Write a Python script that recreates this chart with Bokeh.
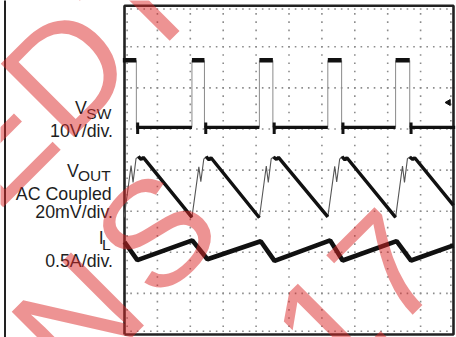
import numpy as np
from bokeh.plotting import figure
from bokeh.models import Range1d
from bokeh.core.properties import value
from bokeh.embed import file_html
from bokeh.resources import INLINE

# ---- data (units: screen divisions, 10 x 8) ----
vsw_rise = [2.05, 4.10, 6.18, 8.24]
vsw_fall = [0.36, 2.43, 4.51, 6.60, 8.67]
vsw_high = 6.67
vsw_low = 5.04

vout_t = [-0.01, 0.20, 0.26, 0.35, 0.42, 0.51, 0.57,
          2.05, 2.26, 2.32, 2.41, 2.48, 2.57, 2.63,
          4.10, 4.31, 4.37, 4.46, 4.53, 4.62, 4.68,
          6.18, 6.39, 6.45, 6.54, 6.61, 6.70, 6.76,
          8.24, 8.45, 8.51, 8.60, 8.67, 8.76, 8.82, 10.0]
vout_v = [2.85, 4.11, 3.70, 4.28, 4.33, 4.26, 4.31,
          2.85, 4.08, 3.72, 4.27, 4.33, 4.25, 4.30,
          2.84, 4.10, 3.70, 4.28, 4.32, 4.26, 4.31,
          2.86, 4.09, 3.71, 4.27, 4.33, 4.25, 4.30,
          2.85, 4.10, 3.70, 4.28, 4.32, 4.26, 4.30, 3.14]

il_t = [0.0, 0.39, 2.06, 2.52, 4.14, 4.56, 6.25, 6.63, 8.27, 8.71, 10.0]
il_v = [2.25, 1.81, 2.29, 1.83, 2.27, 1.79, 2.29, 1.80, 2.27, 1.80, 2.17]

labels = ["10V/div.", "AC Coupled", "20mV/div.", "0.5A/div."]
watermark = ["E", "D", "T", "N", "S", "1", "7"]

# ---- page geometry helpers (reference pixel -> division) ----
PXD, PYD = 32.9, 41.1
def gx(px):
    return (px - 124.0) / PXD
def gy(py):
    return (334.0 - py) / PYD

p = figure(width=456, height=337, output_backend="svg", toolbar_location=None,
           x_range=Range1d(gx(0), gx(456)), y_range=Range1d(gy(337), gy(0)),
           x_axis_type=None, y_axis_type=None, min_border=0)
p.outline_line_color = None
p.grid.visible = False
p.background_fill_color = "white"
p.border_fill_color = "white"

# graticule dots and edge ticks
gxs, gys = [], []
for k in range(1, 8):
    for t in np.arange(0, 10.001, 0.2):
        gxs.append(t); gys.append(k)
for j in range(1, 10):
    for t in np.arange(0, 8.001, 0.2):
        gxs.append(j); gys.append(t)
for t in np.arange(0.2, 9.9, 0.2):
    gxs += [t, t]; gys += [0.08, 7.92]
for t in np.arange(0.2, 7.9, 0.2):
    gxs += [0.08, 9.92]; gys += [t, t]
p.scatter(gxs, gys, marker="square", size=1.6, color="#8c8c8c", line_color=None)

# frame
p.line([0, 10, 10, 0, 0], [0, 0, 8, 8, 0], line_color="#222222", line_width=2.6)
# left neighbour panel edge
p.line([gx(4.5), gx(4.5)], [gy(340), gy(-2)], line_color="#222222", line_width=2)

# V_SW
starts = [-0.05] + vsw_rise
ends = vsw_fall
hi_xs = [[a, b] for a, b in zip(starts, ends)]
hi_ys = [[vsw_high, vsw_high] for _ in hi_xs]
lo_starts = vsw_fall
lo_ends = vsw_rise + [10.05]
lo_xs = [[a, b] for a, b in zip(lo_starts, lo_ends)]
lo_ys = [[vsw_low, vsw_low] for _ in lo_xs]
edge_xs = [[t, t] for t in vsw_rise + vsw_fall]
edge_ys = [[vsw_low, vsw_high] for _ in edge_xs]
p.multi_line(edge_xs, edge_ys, line_color="#8a8a8a", line_width=1)
p.multi_line(hi_xs, hi_ys, line_color="#111111", line_width=4.5)
p.multi_line(lo_xs, lo_ys, line_color="#111111", line_width=3.2)
ring_xs = [[t + 0.04, t + 0.04] for t in vsw_fall]
ring_ys = [[vsw_low - 0.16, vsw_low + 0.12] for _ in ring_xs]
p.multi_line(ring_xs, ring_ys, line_color="#111111", line_width=3)
p.scatter([gx(448)], [gy(102)], marker="triangle", angle=np.pi / 2, size=6,
          color="#111111")

# V_OUT
p.line(vout_t, vout_v, line_color="#555555", line_width=1.1)
thick_x, thick_y = [], []
for c in range(5):
    i0 = 7 * c + 4
    i1 = 7 * (c + 1)
    thick_x.append(vout_t[i0:i1 + 1])
    thick_y.append(vout_v[i0:i1 + 1])
p.multi_line(thick_x, thick_y, line_color="#111111", line_width=3.4)

# I_L
p.line(il_t, il_v, line_color="#111111", line_width=4.6)

# labels
F = value("Liberation Sans")
def txt(s, px, py, size, align):
    p.text([gx(px)], [gy(py)], text=[s], text_font=F, text_font_size=size,
           text_align=align, text_baseline="alphabetic", text_color="#1e1e1e")

txt("V", 74.5, 107.5, "17.8px", "left")
txt("SW", 85.8, 112.5, "15.5px", "left")
txt(labels[0], 112.5, 130.5, "17.8px", "right")
txt("V", 66.5, 170, "17.8px", "left")
txt("OUT", 77.5, 174.5, "15.5px", "left")
txt(labels[1], 111.2, 193, "17.8px", "right")
txt(labels[2], 112.5, 211.5, "17.8px", "right")
txt("I", 98.3, 237.5, "17.8px", "left")
txt("L", 101.6, 243.5, "15.5px", "left")
txt(labels[3], 112.5, 260, "17.8px", "right")

# watermark (rotated letters, drawn on top)
wm_px = [28, 66, 105, 77, 155, 327, 386]
wm_py = [108, 70, 31, 318, 232, 326, 267]
wm_align = ["right", "center", "left", "center", "center", "center", "center"]
for s, a, b, al in zip(watermark, wm_px, wm_py, wm_align):
    p.text([gx(a)], [gy(b)], text=[s], text_font=F, text_font_size="150px",
           text_align=al, text_baseline="middle", angle=np.pi / 4,
           text_color="#dc2828", text_alpha=0.5)

open("out.html", "w").write(file_html(p, INLINE))
